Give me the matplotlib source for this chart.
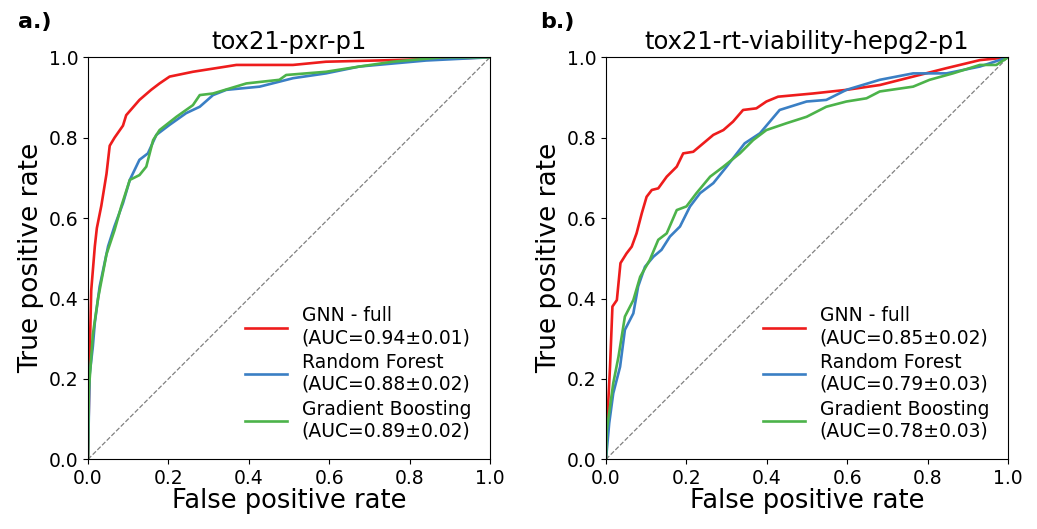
import matplotlib
matplotlib.use("Agg")
import matplotlib.pyplot as plt

# ---- data: left panel (tox21-pxr-p1) ----
gnn_a_fpr = [0, 0.004, 0.008, 0.017, 0.022, 0.033, 0.046, 0.054, 0.066, 0.087, 0.095, 0.128, 0.157, 0.178, 0.203, 0.261, 0.344, 0.369, 0.51, 0.592, 0.758, 1.0]
gnn_a_tpr = [0, 0.25, 0.42, 0.53, 0.575, 0.63, 0.71, 0.78, 0.80, 0.83, 0.856, 0.894, 0.919, 0.935, 0.952, 0.964, 0.977, 0.981, 0.981, 0.989, 0.993, 1.0]
rf_a_fpr = [0, 0.004, 0.012, 0.017, 0.029, 0.05, 0.066, 0.087, 0.104, 0.128, 0.149, 0.17, 0.203, 0.244, 0.278, 0.311, 0.344, 0.427, 0.51, 0.592, 0.675, 0.841, 1.0]
rf_a_tpr = [0, 0.21, 0.28, 0.34, 0.43, 0.53, 0.58, 0.637, 0.695, 0.745, 0.761, 0.807, 0.832, 0.861, 0.877, 0.906, 0.919, 0.927, 0.948, 0.96, 0.977, 0.992, 1.0]
gb_a_fpr = [0, 0.002, 0.012, 0.025, 0.046, 0.066, 0.083, 0.104, 0.128, 0.145, 0.162, 0.178, 0.22, 0.261, 0.278, 0.311, 0.394, 0.476, 0.493, 0.592, 0.675, 0.758, 0.882, 1.0]
gb_a_tpr = [0, 0.17, 0.31, 0.40, 0.51, 0.57, 0.63, 0.695, 0.707, 0.728, 0.794, 0.819, 0.852, 0.881, 0.906, 0.91, 0.935, 0.944, 0.956, 0.964, 0.977, 0.989, 1.0, 1.0]

# ---- data: right panel (tox21-rt-viability-hepg2-p1) ----
gnn_b_fpr = [0, 0.003, 0.01, 0.016, 0.027, 0.036, 0.051, 0.064, 0.076, 0.089, 0.101, 0.114, 0.13, 0.151, 0.176, 0.192, 0.217, 0.242, 0.267, 0.292, 0.316, 0.341, 0.374, 0.399, 0.428, 0.515, 0.598, 0.681, 0.764, 0.847, 0.93, 1.0]
gnn_b_tpr = [0, 0.09, 0.23, 0.38, 0.396, 0.488, 0.512, 0.529, 0.562, 0.612, 0.653, 0.67, 0.674, 0.703, 0.728, 0.761, 0.765, 0.786, 0.807, 0.819, 0.84, 0.869, 0.873, 0.89, 0.902, 0.91, 0.919, 0.931, 0.952, 0.973, 0.993, 1.0]
rf_b_fpr = [0, 0.008, 0.018, 0.035, 0.047, 0.068, 0.08, 0.097, 0.118, 0.138, 0.159, 0.184, 0.209, 0.234, 0.267, 0.3, 0.345, 0.383, 0.432, 0.499, 0.548, 0.598, 0.681, 0.764, 0.847, 0.93, 1.0]
rf_b_tpr = [0, 0.09, 0.164, 0.23, 0.322, 0.363, 0.43, 0.479, 0.504, 0.521, 0.554, 0.579, 0.629, 0.662, 0.687, 0.728, 0.786, 0.811, 0.869, 0.89, 0.894, 0.919, 0.944, 0.96, 0.96, 0.977, 1.0]
gb_b_fpr = [0, 0.002, 0.018, 0.031, 0.047, 0.068, 0.085, 0.109, 0.13, 0.151, 0.176, 0.2, 0.225, 0.259, 0.292, 0.333, 0.366, 0.399, 0.449, 0.499, 0.548, 0.598, 0.648, 0.681, 0.764, 0.805, 0.863, 0.93, 0.971, 1.0]
gb_b_tpr = [0, 0.073, 0.189, 0.255, 0.355, 0.396, 0.454, 0.496, 0.546, 0.562, 0.62, 0.629, 0.662, 0.703, 0.728, 0.761, 0.794, 0.819, 0.836, 0.852, 0.877, 0.89, 0.898, 0.915, 0.927, 0.944, 0.96, 0.981, 0.981, 1.0]

titles = ["tox21-pxr-p1", "tox21-rt-viability-hepg2-p1"]
panel_tags = ["a.)", "b.)"]
model_names = ["GNN - full", "Random Forest", "Gradient Boosting"]
auc_a = ["0.94\u00b10.01", "0.88\u00b10.02", "0.89\u00b10.02"]
auc_b = ["0.85\u00b10.02", "0.79\u00b10.03", "0.78\u00b10.03"]
ticks = [0.0, 0.2, 0.4, 0.6, 0.8, 1.0]

colors = ["#ee1c1c", "#3a7fc4", "#4cb34a"]

panels = [
    ([(gnn_a_fpr, gnn_a_tpr), (rf_a_fpr, rf_a_tpr), (gb_a_fpr, gb_a_tpr)], auc_a),
    ([(gnn_b_fpr, gnn_b_tpr), (rf_b_fpr, rf_b_tpr), (gb_b_fpr, gb_b_tpr)], auc_b),
]

fig = plt.figure(figsize=(10.37, 5.29), dpi=100)
lefts = [88 / 1037, 606 / 1037]
tag_x = [18 / 1037, 540 / 1037]
for i, (curves, aucs) in enumerate(panels):
    ax = fig.add_axes([lefts[i], 1 - 459.3 / 529, 402 / 1037, 402 / 529])
    ax.plot([0, 1], [0, 1], linestyle="--", color="gray", linewidth=0.9)
    for (fpr, tpr), c, name, auc in zip(curves, colors, model_names, aucs):
        ax.plot(fpr, tpr, color=c, linewidth=1.9, label=f"{name}\n(AUC={auc})")
    ax.set_xlim(0, 1)
    ax.set_ylim(0, 1)
    ax.set_xticks(ticks)
    ax.set_yticks(ticks)
    ax.tick_params(labelsize=13.5)
    ax.set_xlabel("False positive rate", fontsize=18.5, labelpad=0)
    ax.set_ylabel("True positive rate", fontsize=19, labelpad=3)
    ax.set_title(titles[i], fontsize=17.5, pad=6)
    ax.legend(loc="lower right", frameon=False, fontsize=13.5, handlelength=2.2,
              labelspacing=0.3, borderaxespad=0.6)
    fig.text(tag_x[i], 1 - 22 / 529, panel_tags[i], fontsize=16, fontweight="bold",
             va="center", ha="left")

fig.savefig("out.png", dpi=100)
